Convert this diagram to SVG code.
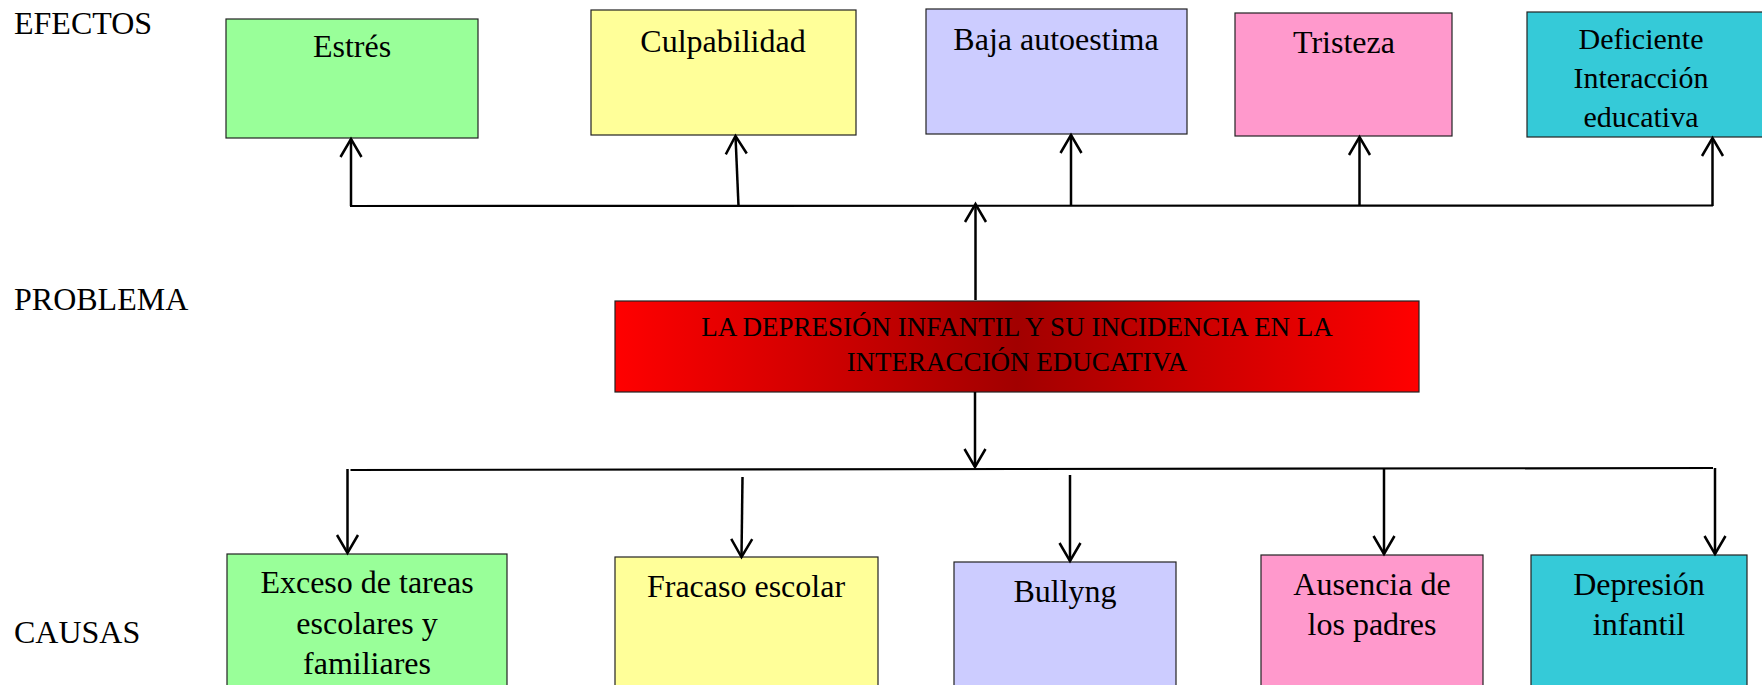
<svg xmlns="http://www.w3.org/2000/svg" width="1762" height="685" viewBox="0 0 1762 685">
<style>
.box{stroke:#222;stroke-width:1.2}
.t{font-family:"Liberation Serif","Times New Roman",serif;font-size:32px;fill:#000;text-anchor:middle}
.lbl{font-family:"Liberation Serif","Times New Roman",serif;font-size:32px;fill:#000}
.c{fill:none;stroke:#000;stroke-width:2.5}
.h{fill:none;stroke:#000;stroke-width:2.2}
</style>
<defs>
<marker id="arr" markerUnits="userSpaceOnUse" viewBox="-20 -12 22 24" refX="0" refY="0" markerWidth="22" markerHeight="24" orient="auto" overflow="visible">
<path d="M-18,-10.5 L0,0 L-18,10.5" fill="none" stroke="#000" stroke-width="2.5"/>
</marker>
<linearGradient id="red" x1="0" y1="0" x2="1" y2="0">
<stop offset="0" stop-color="#FF0000"/>
<stop offset="0.5" stop-color="#A20000"/>
<stop offset="1" stop-color="#FF0000"/>
</linearGradient>
</defs>
<rect width="1762" height="685" fill="#fff"/>

<g id="labels">
<text class="lbl" x="14" y="34">EFECTOS</text>
<text class="lbl" x="14" y="310">PROBLEMA</text>
<text class="lbl" x="14" y="643">CAUSAS</text>
</g>

<g id="efecto-estres">
<rect class="box" x="226" y="19" width="252" height="119" fill="#99FF99"/>
<text class="t" x="352" y="57">Estrés</text>
</g>
<g id="efecto-culpabilidad">
<rect class="box" x="591" y="10" width="265" height="125" fill="#FFFF99"/>
<text class="t" x="723" y="52">Culpabilidad</text>
</g>
<g id="efecto-autoestima">
<rect class="box" x="926" y="9" width="261" height="125" fill="#CCCCFF"/>
<text class="t" x="1056" y="50">Baja autoestima</text>
</g>
<g id="efecto-tristeza">
<rect class="box" x="1235" y="13" width="217" height="123" fill="#FF99CC"/>
<text class="t" x="1344" y="53">Tristeza</text>
</g>
<g id="efecto-interaccion">
<rect class="box" x="1527" y="12" width="245" height="125" fill="#35CAD8"/>
<text class="t" x="1641" y="49" style="font-size:30px">Deficiente</text>
<text class="t" x="1641" y="88" style="font-size:30px">Interacción</text>
<text class="t" x="1641" y="127" style="font-size:30px">educativa</text>
</g>

<g id="problema">
<rect class="box" x="615" y="301" width="804" height="91" fill="url(#red)"/>
<text class="t" x="1017" y="336" style="font-size:27px">LA DEPRESIÓN INFANTIL Y SU INCIDENCIA EN LA</text>
<text class="t" x="1017" y="371" style="font-size:27px">INTERACCIÓN EDUCATIVA</text>
</g>

<g id="causa-tareas">
<rect class="box" x="227" y="554" width="280" height="140" fill="#99FF99"/>
<text class="t" x="367" y="593">Exceso de tareas</text>
<text class="t" x="367" y="634">escolares y</text>
<text class="t" x="367" y="674">familiares</text>
</g>
<g id="causa-fracaso">
<rect class="box" x="615" y="557" width="263" height="140" fill="#FFFF99"/>
<text class="t" x="746" y="597">Fracaso escolar</text>
</g>
<g id="causa-bullyng">
<rect class="box" x="954" y="562" width="222" height="140" fill="#CCCCFF"/>
<text class="t" x="1065" y="602">Bullyng</text>
</g>
<g id="causa-padres">
<rect class="box" x="1261" y="555" width="222" height="140" fill="#FF99CC"/>
<text class="t" x="1372" y="595">Ausencia de</text>
<text class="t" x="1372" y="635">los padres</text>
</g>
<g id="causa-depresion">
<rect class="box" x="1531" y="555" width="216" height="140" fill="#35CAD8"/>
<text class="t" x="1639" y="595">Depresión</text>
<text class="t" x="1639" y="635">infantil</text>
</g>

<g id="connectors">
<line class="h" x1="350" y1="206" x2="1713" y2="205.5"/>
<line class="c" x1="351" y1="206" x2="351" y2="139" marker-end="url(#arr)"/>
<line class="c" x1="738.5" y1="206" x2="735.5" y2="136" marker-end="url(#arr)"/>
<line class="c" x1="1071" y1="206" x2="1071" y2="135" marker-end="url(#arr)"/>
<line class="c" x1="1359.5" y1="206" x2="1359.5" y2="137" marker-end="url(#arr)"/>
<line class="c" x1="1712.5" y1="206" x2="1712.5" y2="138" marker-end="url(#arr)"/>
<line class="c" x1="975.5" y1="300" x2="975.5" y2="204" marker-end="url(#arr)"/>
<line class="c" x1="975" y1="392" x2="975" y2="467" marker-end="url(#arr)"/>
<line class="h" x1="350.5" y1="470" x2="1713" y2="468"/>
<line class="c" x1="347.5" y1="469" x2="347.5" y2="553" marker-end="url(#arr)"/>
<line class="c" x1="742.5" y1="477" x2="741.5" y2="557" marker-end="url(#arr)"/>
<line class="c" x1="1070" y1="475" x2="1070" y2="561" marker-end="url(#arr)"/>
<line class="c" x1="1384" y1="468" x2="1384" y2="554" marker-end="url(#arr)"/>
<line class="c" x1="1715" y1="468" x2="1715" y2="554" marker-end="url(#arr)"/>
</g>
</svg>
